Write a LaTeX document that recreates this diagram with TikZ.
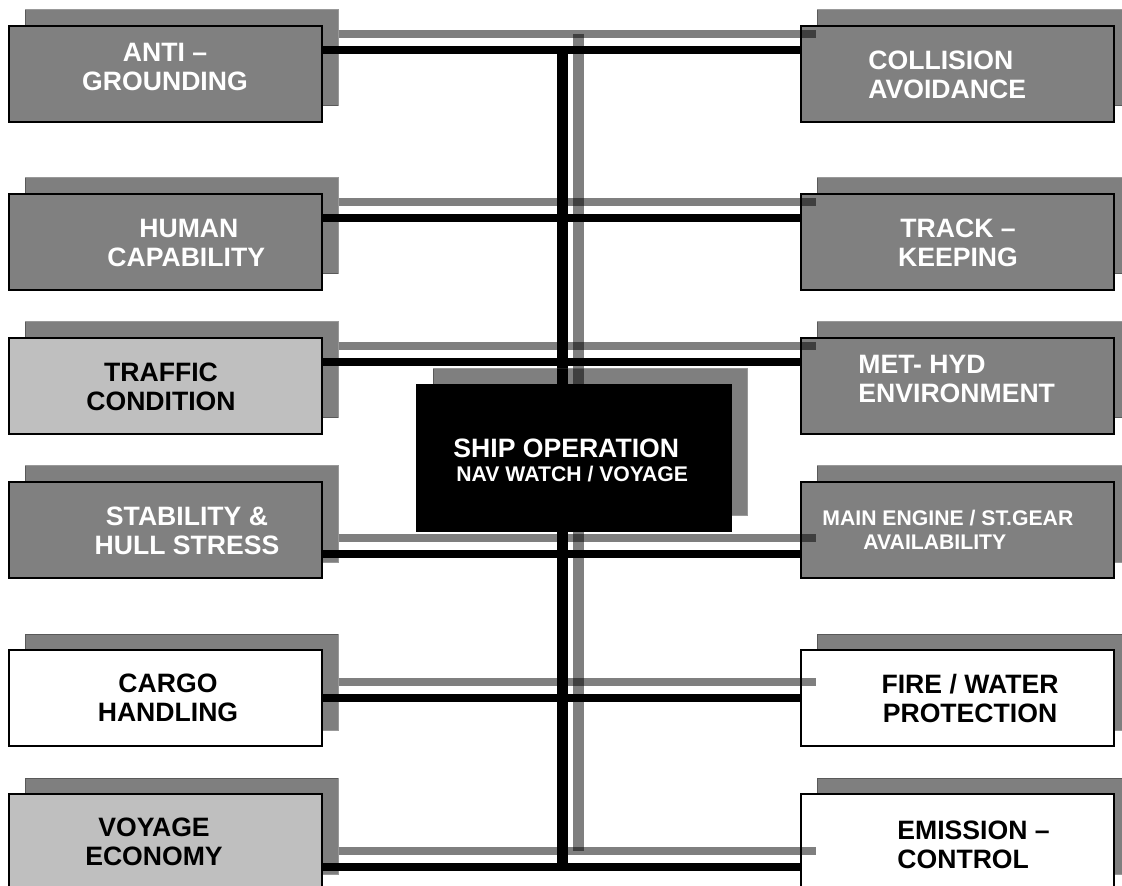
\documentclass[tikz,border=0pt]{standalone}
\usepackage{fontspec}
\setmainfont{Liberation Sans}
\begin{document}
\begin{tikzpicture}[x=0.5pt,y=-0.5pt,
  box/.style={draw=black,line width=0.7pt,minimum width=156.5pt,minimum height=48pt,inner sep=0pt,
    preaction={fill=black,fill opacity=.5,draw=black!80,draw opacity=.5,line width=0.5pt,
      transform canvas={xshift=8pt,yshift=8pt}}},
  dark/.style={box,fill=black!50},
  pale/.style={box,fill=black!25},
  blank/.style={box,fill=white},
  wtxt/.style={inner sep=0pt,text=white,font=\fontsize{13.3}{14.5}\selectfont\bfseries},
  btxt/.style={wtxt,text=black},
  link/.style={line width=#1,preaction={draw=black,draw opacity=.5,line width=#1,
      transform canvas={xshift=8pt,yshift=8pt}}},
  link/.default=3.6pt]
\useasboundingbox (0,0) rectangle (1122,886);
\clip (0,0) rectangle (1122,886);
% left column
\node[dark]  (anti)  at (165.5,74)  {};
\node[dark]  (human) at (165.5,242) {};
\node[pale]  (traf)  at (165.5,386) {};
\node[dark]  (stab)  at (165.5,530) {};
\node[blank] (cargo) at (165.5,698) {};
\node[pale]  (econ)  at (165.5,842) {};
% right column
\node[dark]  (coll)  at (957.5,74)  {};
\node[dark]  (track) at (957.5,242) {};
\node[dark]  (met)   at (957.5,386) {};
\node[dark]  (eng)   at (957.5,530) {};
\node[blank] (fire)  at (957.5,698) {};
\node[blank] (emis)  at (957.5,842) {};
% bus
\coordinate (j1) at (562.5,50);
\coordinate (j2) at (562.5,218);
\coordinate (j3) at (562.5,362);
\coordinate (j4) at (562.5,554);
\coordinate (j5) at (562.5,698);
\coordinate (j6) at (562.5,867);
\draw[link] (anti.east |- j1) -- (coll.west |- j1);
\draw[link] (human.east |- j2) -- (track.west |- j2);
\draw[link] (traf.east |- j3) -- (met.west |- j3);
\draw[link] (stab.east |- j4) -- (eng.west |- j4);
\draw[link] (cargo.east |- j5) -- (fire.west |- j5);
\draw[link] (econ.east |- j6) -- (emis.west |- j6);
\draw[link=5.5pt] (j1) -- (j6);
% centre
\node[box,fill=black,minimum width=157pt,minimum height=73pt] (ship) at (574,458) {};
\node[wtxt,anchor=west,align=left,font=\fontsize{10.6}{12}\selectfont\bfseries] (shipt) at (453,460)
  {{\fontsize{13.3}{12}\selectfont SHIP OPERATION}\\\hspace*{1.5pt}NAV WATCH / VOYAGE};
% labels
\node[wtxt,align=center] (antit) at (165,66.5) {ANTI –\\GROUNDING};
\node[wtxt,anchor=west,align=left] (humant) at (107,242.5) {\hspace*{16pt}HUMAN\\CAPABILITY};
\node[btxt,align=center] (traft) at (161,386.5) {TRAFFIC\\CONDITION};
\node[wtxt,align=center] (stabt) at (187,531) {STABILITY \&\\HULL STRESS};
\node[btxt,align=center] (cargot) at (168,698) {CARGO\\HANDLING};
\node[btxt,align=center] (econt) at (154,842) {VOYAGE\\ECONOMY};
\node[wtxt,anchor=west,align=left] (collt) at (868,74.5) {COLLISION\\AVOIDANCE};
\node[wtxt,align=center] (trackt) at (958,242.5) {TRACK –\\KEEPING};
\node[wtxt,anchor=west,align=left] (mett) at (858,379) {MET- HYD\\ENVIRONMENT};
\node[wtxt,anchor=west,align=left,font=\fontsize{10.6}{12}\selectfont\bfseries] (engt) at (822,530)
  {MAIN ENGINE / ST.GEAR\\\hspace*{20.5pt}AVAILABILITY};
\node[btxt,align=center] (firet) at (970,698) {FIRE / WATER\\PROTECTION};
\node[btxt,anchor=west,align=left] (emist) at (897,845) {EMISSION –\\CONTROL};
\end{tikzpicture}
\end{document}
